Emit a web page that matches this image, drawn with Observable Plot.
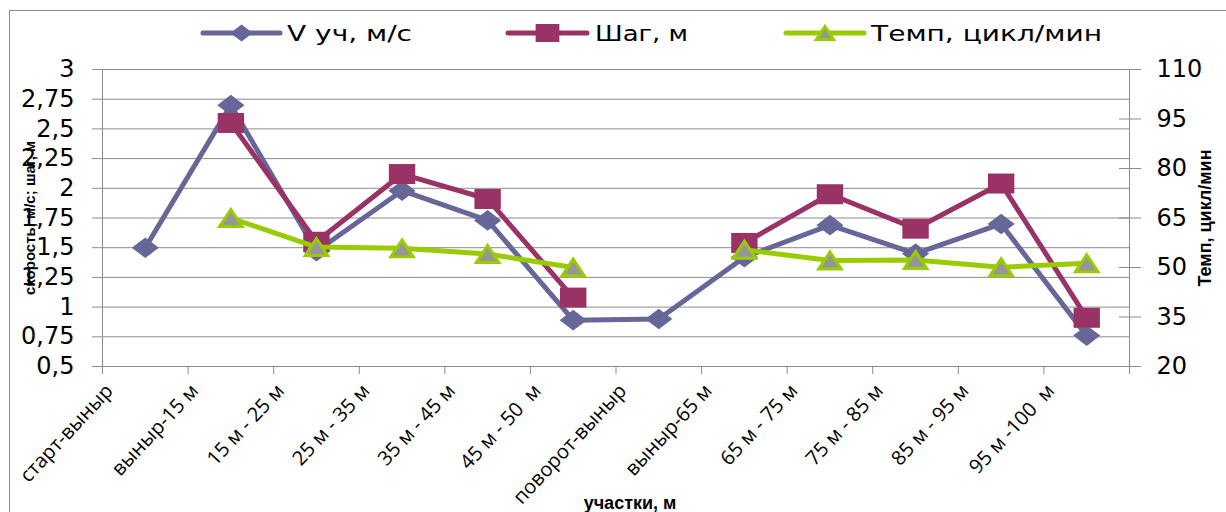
<!DOCTYPE html>
<html>
<head>
<meta charset="utf-8">
<script src="https://cdn.jsdelivr.net/npm/d3@7"></script>
<script src="https://cdn.jsdelivr.net/npm/@observablehq/plot@0.6"></script>
<style>
  html, body { margin: 0; padding: 0; background: #fff; overflow: hidden; }
  #chart { position: relative; width: 1226px; height: 512px; }
  #frame { position: absolute; left: 9px; top: 10px; right: 0; bottom: 0;
           border-left: 1px solid #8c8c8c; border-top: 1px solid #8c8c8c; }
  #chart > svg { position: absolute; left: 0; top: 0; }
  svg text { white-space: pre; }
</style>
</head>
<body>
<div id="chart"><div id="frame"></div></div>
<script>
// Swim segments along the 100 m distance
const categories = [
  "старт-выныр", "выныр-15 м", "15 м - 25 м", "25 м - 35 м", "35 м - 45 м",
  "45 м - 50  м", "поворот-выныр", "выныр-65 м", "65 м - 75 м", "75 м - 85 м",
  "85 м - 95 м", "95 м -100  м"
];
// Segment speed, m/s (left axis)
const speed = [1.50, 2.70, 1.47, 1.98, 1.73, 0.89, 0.90, 1.42, 1.69, 1.45, 1.70, 0.76];
// Stroke length, m (left axis)
const stepLen = [null, 2.55, 1.55, 2.12, 1.91, 1.08, null, 1.54, 1.95, 1.66, 2.04, 0.91];
// Stroke rate, cycles/min (right axis)
const tempo = [null, 65.0, 56.2, 55.8, 54.1, 50.0, null, 55.4, 52.1, 52.3, 50.1, 51.3];

const leftTicks = [0.5, 0.75, 1, 1.25, 1.5, 1.75, 2, 2.25, 2.5, 2.75, 3];
const rightTicks = [20, 35, 50, 65, 80, 95, 110];

const seriesNames = ["V уч, м/с", "Шаг, м", "Темп, цикл/мин"];
const colors = { speed: "#666699", step: "#993366", tempo: "#99cc00", tempoFill: "#969696" };

// The right axis shares the plot height with the left one
const [l0, l1] = [leftTicks[0], leftTicks[leftTicks.length - 1]];
const [r0, r1] = [rightTicks[0], rightTicks[rightTicks.length - 1]];
const toLeft = t => l0 + (t - r0) * (l1 - l0) / (r1 - r0);
const fromLeft = v => r0 + (v - l0) * (r1 - r0) / (l1 - l0);

const rows = categories.map((c, i) => ({
  i, c, v: speed[i], s: stepLen[i], t: tempo[i] == null ? null : toLeft(tempo[i])
}));

// Wide marker shapes
const ASPECT = 1.32;
const wideDiamond = { draw(ctx, size) {
  const r = Math.sqrt(size / Math.PI), w = r * ASPECT;
  ctx.moveTo(0, -r); ctx.lineTo(w, 0); ctx.lineTo(0, r); ctx.lineTo(-w, 0); ctx.closePath();
}};
const wideSquare = { draw(ctx, size) {
  const r = Math.sqrt(size / Math.PI), w = r * ASPECT;
  ctx.moveTo(-w, -r); ctx.lineTo(w, -r); ctx.lineTo(w, r); ctx.lineTo(-w, r); ctx.closePath();
}};
const wideTriangle = { draw(ctx, size) {
  const r = Math.sqrt(size / Math.PI), w = r * ASPECT;
  ctx.moveTo(0, -r); ctx.lineTo(w, r); ctx.lineTo(-w, r); ctx.closePath();
}};

const cx = d => d.i + 0.5;
const fmt = d => String(d).replace(".", ",");
const grid = "#8c8c8c";

const chart = Plot.plot({
  width: 1226,
  height: 512,
  marginTop: 69,
  marginBottom: 146,
  marginLeft: 102,
  marginRight: 97,
  x: { domain: [0, categories.length] },
  y: { domain: [l0, l1] },
  style: { fontFamily: "DejaVu Sans", fontSize: "24px", color: "#000", background: "transparent", overflow: "visible" },
  marks: [
    Plot.ruleY(leftTicks, { stroke: grid, strokeWidth: 1 }),
    Plot.ruleX([0, categories.length], { stroke: grid, strokeWidth: 1 }),
    Plot.axisY(leftTicks, { anchor: "left", tickSize: 10, tickPadding: 18, tickFormat: fmt,
      stroke: grid, label: null, fontSize: 24 }),
    Plot.axisY(rightTicks.map(toLeft), { anchor: "right", tickSize: 22, dx: -11,
      tickFormat: () => "", stroke: grid, label: null }),
    Plot.axisY(rightTicks.map(toLeft), { anchor: "right", tickSize: 0, tickPadding: 27,
      tickFormat: d => String(Math.round(fromLeft(d))), label: null, fontSize: 24 }),
    Plot.axisX(d3.range(categories.length + 1), { anchor: "bottom", tickSize: 8,
      tickFormat: () => "", stroke: grid, label: null }),
    Plot.text(categories, { x: (d, i) => i + 0.5, frameAnchor: "bottom", text: d => d,
      rotate: -47, textAnchor: "end", lineAnchor: "middle", dx: -36, dy: 21,
      fontSize: 20, fontFamily: "Open Sans" }),

    Plot.text(["скорость, м/с; шаг, м"], { frameAnchor: "left", dx: -72, rotate: -90,
      textAnchor: "middle", lineAnchor: "middle", fontWeight: "bold", fontSize: 15, fontFamily: "Liberation Sans" }),
    Plot.text(["Темп, цикл/мин"], { frameAnchor: "right", dx: 76, rotate: -90,
      textAnchor: "middle", lineAnchor: "middle", fontWeight: "bold", fontSize: 18, fontFamily: "Liberation Sans" }),
    Plot.text(["участки, м"], { frameAnchor: "bottom", dx: 14, dy: 137,
      textAnchor: "middle", lineAnchor: "middle", fontWeight: "bold", fontSize: 18, fontFamily: "Liberation Sans" }),

    Plot.line(rows, { x: cx, y: "v", stroke: colors.speed, strokeWidth: 5, strokeLinejoin: "round" }),
    Plot.dot(rows, { x: cx, y: "v", symbol: wideDiamond, r: 10.3, fill: colors.speed, stroke: "none" }),
    Plot.line(rows, { x: cx, y: "s", stroke: colors.step, strokeWidth: 5, strokeLinejoin: "round" }),
    Plot.dot(rows, { x: cx, y: "s", symbol: wideSquare, r: 10, fill: colors.step, stroke: "none" }),
    Plot.line(rows, { x: cx, y: "t", stroke: colors.tempo, strokeWidth: 5, strokeLinejoin: "round" }),
    Plot.dot(rows, { x: cx, y: "t", symbol: wideTriangle, r: 8.5, fill: colors.tempoFill,
      stroke: colors.tempo, strokeWidth: 3 })
  ]
});
document.getElementById("chart").appendChild(chart);

// Legend row above the plot
const legendItems = [
  { name: seriesNames[0], color: colors.speed, fill: colors.speed, stroke: "none", symbol: wideDiamond, r: 8.5, x0: 203, x1: 280, tx: 287, tw: 125 },
  { name: seriesNames[1], color: colors.step, fill: colors.step, stroke: "none", symbol: wideSquare, r: 9, x0: 508, x1: 587, tx: 595, tw: 93 },
  { name: seriesNames[2], color: colors.tempo, fill: colors.tempoFill, stroke: colors.tempo, symbol: wideTriangle, r: 6.5, x0: 786, x1: 864, tx: 871, tw: 231 }
];
const legend = d3.select("#chart").append("svg")
  .attr("width", 1226).attr("height", 60)
  .style("position", "absolute").style("left", "0").style("top", "0");
const ly = 33;
const g = legend.selectAll("g").data(legendItems).join("g");
g.append("line")
  .attr("x1", d => d.x0).attr("x2", d => d.x1).attr("y1", ly).attr("y2", ly)
  .attr("stroke", d => d.color).attr("stroke-width", 5).attr("stroke-linecap", "round");
g.append("path")
  .attr("transform", d => `translate(${(d.x0 + d.x1) / 2},${ly})`)
  .attr("d", d => d3.symbol(d.symbol, d.r * d.r * Math.PI)())
  .attr("fill", d => d.fill).attr("stroke", d => d.stroke).attr("stroke-width", 3);
g.append("text")
  .attr("x", d => d.tx).attr("y", ly).attr("dy", "0.36em")
  .attr("textLength", d => d.tw).attr("lengthAdjust", "spacingAndGlyphs")
  .attr("font-family", "DejaVu Sans").attr("font-size", 21).attr("fill", "#000")
  .text(d => d.name);
</script>
</body>
</html>
